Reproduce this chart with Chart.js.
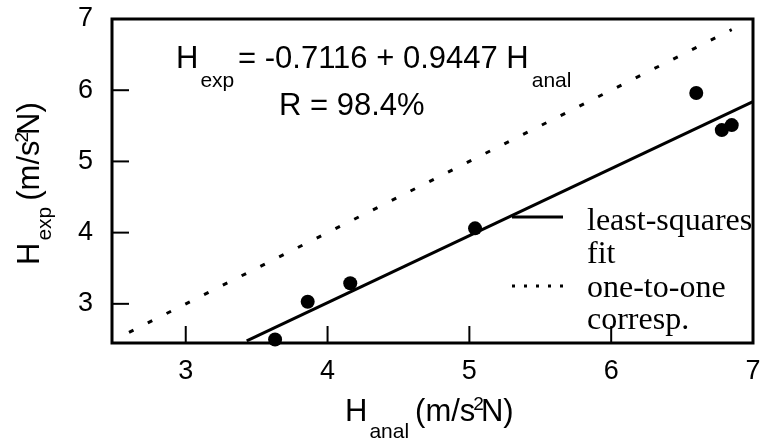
<!DOCTYPE html>
<html><head><meta charset="utf-8">
<script src="https://cdn.jsdelivr.net/npm/chart.js@4/dist/chart.umd.min.js"></script>
<style>html,body{margin:0;padding:0;background:#fff}#wrap{width:767px;height:446px}</style>
</head><body><div id="wrap"><canvas id="c" width="767" height="446"></canvas></div>
<script>
// ---- data ----
const hAnal = [3.63, 3.86, 4.16, 5.04, 6.60, 6.78, 6.85];
const hExp  = [2.50, 3.03, 3.29, 4.06, 5.96, 5.44, 5.51];
const fitX  = [3.43, 7.0];
const fitY  = [2.48, 5.84];
const oneX  = [2.6, 6.85];
const oneY  = [2.6, 6.85];
const xTicks = [3, 4, 5, 6, 7];
const yTicks = [3, 4, 5, 6, 7];
const xRange = [2.48, 7];
const yRange = [2.45, 7];
const legendLabels = [["least-squares", "fit"], ["one-to-one", "corresp."]];

const SANS = '"Liberation Sans", Arial, Helvetica, sans-serif';
const SERIF = '"Liberation Serif", "Times New Roman", serif';

function pts(xs, ys) { return xs.map((x, i) => ({ x: x, y: ys[i] })); }

function rich(ctx, parts, x, y) {
  let cx = x;
  for (const p of parts) {
    ctx.font = p.size + 'px ' + SANS;
    if (p.x !== undefined) cx = x + p.x;
    ctx.fillText(p.t, cx + (p.dx || 0), y + (p.dy || 0));
    cx += ctx.measureText(p.t).width + (p.dx || 0);
  }
}

const decor = {
  id: 'decor',
  afterDraw(chart) {
    const ctx = chart.ctx, a = chart.chartArea;
    const xs = chart.scales.x, ys = chart.scales.y;
    ctx.save();
    ctx.strokeStyle = '#000';
    ctx.fillStyle = '#000';
    // frame
    ctx.lineWidth = 3;
    ctx.strokeRect(a.left, a.top, a.right - a.left, a.bottom - a.top);
    // inward ticks
    ctx.lineWidth = 2;
    yTicks.slice(0, -1).forEach(v => {
      const py = ys.getPixelForValue(v);
      ctx.beginPath(); ctx.moveTo(a.left, py); ctx.lineTo(a.left + 17, py); ctx.stroke();
    });
    xTicks.slice(0, -1).forEach(v => {
      const px = xs.getPixelForValue(v);
      ctx.beginPath(); ctx.moveTo(px, a.bottom); ctx.lineTo(px, a.bottom - 17); ctx.stroke();
    });
    // equation annotation
    ctx.textBaseline = 'alphabetic';
    ctx.textAlign = 'left';
    rich(ctx, [
      { t: 'H', size: 31 },
      { t: 'exp', size: 21, dy: 19, dx: 2 },
      { t: '= -0.7116 + 0.9447 H', size: 31, x: 62 },
      { t: 'anal', size: 21, dy: 19, dx: 3 }
    ], 176, 68);
    rich(ctx, [{ t: 'R = 98.4%', size: 31 }], 279, 115);
    // x axis title
    rich(ctx, [
      { t: 'H', size: 31 },
      { t: 'anal', size: 21, dy: 17, dx: 2 },
      { t: '(m/s', size: 31, dx: 6 },
      { t: '2', size: 19, dy: -11, dx: -2 },
      { t: 'N)', size: 31, dx: -3 }
    ], 345, 421);
    // y axis title (rotated)
    ctx.save();
    ctx.translate(39, 265);
    ctx.rotate(-Math.PI / 2);
    rich(ctx, [
      { t: 'H', size: 31 },
      { t: 'exp', size: 21, dy: 12, dx: 2 },
      { t: '(m/s', size: 31, dx: 6 },
      { t: '2', size: 19, dy: -11, dx: -2 },
      { t: 'N)', size: 31, dx: -3 }
    ], 0, 0);
    ctx.restore();
    // legend
    ctx.lineWidth = 3;
    ctx.beginPath(); ctx.moveTo(512, 217); ctx.lineTo(563, 217); ctx.stroke();
    ctx.setLineDash([3, 9]);
    ctx.beginPath(); ctx.moveTo(512, 286); ctx.lineTo(563, 286); ctx.stroke();
    ctx.setLineDash([]);
    ctx.font = '32px ' + SERIF;
    ctx.fillText(legendLabels[0][0], 587, 230);
    ctx.fillText(legendLabels[0][1], 587, 263);
    ctx.fillText(legendLabels[1][0], 587, 297);
    ctx.fillText(legendLabels[1][1], 587, 329);
    ctx.restore();
  }
};

new Chart(document.getElementById('c'), {
  type: 'scatter',
  data: {
    datasets: [
      { label: 'least-squares fit', data: pts(fitX, fitY), showLine: true, borderColor: '#000',
        borderWidth: 3, pointRadius: 0, fill: false, clip: false },
      { label: 'one-to-one corresp.', data: pts(oneX, oneY), showLine: true, borderColor: '#000',
        borderWidth: 3, borderDash: [5, 16], pointRadius: 0, fill: false, clip: false },
      { label: 'data', data: pts(hAnal, hExp), showLine: false, backgroundColor: '#000',
        borderColor: '#000', pointRadius: 7, borderWidth: 0, clip: false }
    ]
  },
  options: {
    responsive: false, animation: false, devicePixelRatio: 1,
    layout: { padding: { left: 0, right: 14, top: 19, bottom: 0 } },
    plugins: { legend: { display: false }, tooltip: { enabled: false }, title: { display: false } },
    scales: {
      x: {
        type: 'linear', min: xRange[0], max: xRange[1],
        afterBuildTicks: s => { s.ticks = xTicks.map(v => ({ value: v })); },
        afterFit: s => { s.height = 103; s.paddingLeft = 0; s.paddingRight = 0; },
        grid: { display: false, drawTicks: false },
        border: { display: false },
        ticks: { color: '#000', padding: 12, font: { family: SANS, size: 27 }, maxRotation: 0, autoSkip: false }
      },
      y: {
        type: 'linear', min: yRange[0], max: yRange[1],
        afterBuildTicks: s => { s.ticks = yTicks.map(v => ({ value: v })); },
        afterFit: s => { s.width = 112; s.paddingTop = 0; s.paddingBottom = 0; },
        grid: { display: false, drawTicks: false },
        border: { display: false },
        ticks: { color: '#000', padding: 19, font: { family: SANS, size: 27 }, autoSkip: false }
      }
    }
  },
  plugins: [decor]
});
</script></body></html>
